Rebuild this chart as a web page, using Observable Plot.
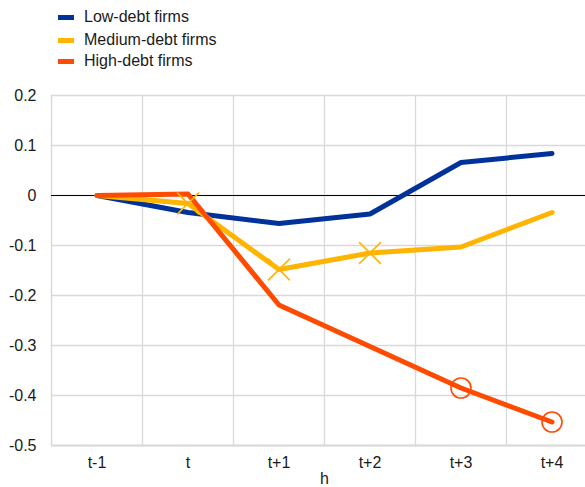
<!DOCTYPE html>
<html>
<head>
<meta charset="utf-8">
<script src="https://cdn.jsdelivr.net/npm/d3@7"></script>
<script src="https://cdn.jsdelivr.net/npm/@observablehq/plot@0.6"></script>
<style>
  html, body { margin: 0; padding: 0; background: #fff; overflow: hidden; width: 585px; height: 487px; }
  #legend { position: relative; height: 78px; font-family: "Liberation Sans", Arial, sans-serif; font-size: 16px; color: #1a1a1a; }
  .item { position: absolute; left: 58px; display: flex; align-items: center; }
  .sw { width: 16px; height: 5px; margin-right: 10px; }
  #chart svg { display: block; overflow: visible; }
</style>
</head>
<body>
<div id="legend"></div>
<div id="chart"></div>
<script>
const categories = ["t-1", "t", "t+1", "t+2", "t+3", "t+4"];
const seriesNames = ["Low-debt firms", "Medium-debt firms", "High-debt firms"];
const colors = ["#003299", "#FFB400", "#FF4B00"];
const lowDebt = [0, -0.034, -0.056, -0.037, 0.066, 0.084];
const mediumDebt = [0, -0.016, -0.148, -0.115, -0.103, -0.034];
const highDebt = [0, 0.003, -0.219, -0.302, -0.385, -0.453];
const yTicks = [-0.5, -0.4, -0.3, -0.2, -0.1, 0, 0.1, 0.2];
const yTickLabels = ["-0.5", "-0.4", "-0.3", "-0.2", "-0.1", "0", "0.1", "0.2"];
// significance markers
const mediumCrossAt = ["t", "t+1", "t+2"];
const highCircleAt = ["t+3", "t+4"];

const legendRowsY = [17, 40, 61];
const legend = document.getElementById("legend");
seriesNames.forEach((name, i) => {
  const d = document.createElement("div");
  d.className = "item";
  d.style.top = (legendRowsY[i] - 9) + "px";
  d.style.height = "18px";
  d.innerHTML = `<span class="sw" style="background:${colors[i]}"></span><span>${name}</span>`;
  legend.appendChild(d);
});

const allSeries = [lowDebt, mediumDebt, highDebt];
const data = [];
allSeries.forEach((vals, s) => vals.forEach((v, i) => data.push({series: seriesNames[s], idx: i, cat: categories[i], value: v})));

const idxOf = c => categories.indexOf(c);
const crosses = mediumCrossAt.map(c => ({idx: idxOf(c), value: mediumDebt[idxOf(c)]}));
const circles = highCircleAt.map(c => ({idx: idxOf(c), value: highDebt[idxOf(c)]}));
const boundaries = categories.slice(1).map((c, i) => i + 0.5);

const chart = Plot.plot({
  width: 585,
  height: 409,
  marginTop: 17,
  marginBottom: 42,
  marginLeft: 51,
  marginRight: -12,
  style: {fontFamily: "'Liberation Sans', Arial, sans-serif", fontSize: "16px", color: "#1a1a1a", background: "transparent"},
  x: {domain: [-0.5, categories.length - 0.5], label: null},
  y: {domain: [-0.5, 0.2], label: null},
  color: {domain: seriesNames, range: colors},
  marks: [
    Plot.ruleY(yTicks, {stroke: "#d9d9d9", strokeWidth: 1.3}),
    Plot.ruleX(boundaries, {stroke: "#d9d9d9", strokeWidth: 1.3}),
    Plot.ruleX([-0.5], {stroke: "#d9d9d9", strokeWidth: 1.5}),
    Plot.ruleY([-0.5], {stroke: "#d9d9d9", strokeWidth: 2}),
    Plot.ruleY([0], {stroke: "#000", strokeWidth: 1}),
    Plot.axisY({ticks: yTicks, tickFormat: (d) => yTickLabels[yTicks.indexOf(d)] ?? d, tickSize: 0, tickPadding: 15, fontSize: 16}),
    Plot.axisX({ticks: d3.range(categories.length), tickFormat: (i) => categories[i], tickSize: 0, tickPadding: 11, fontSize: 16, label: "h", labelAnchor: "center", labelArrow: "none", labelOffset: 38}),
    Plot.line(data, {x: "idx", y: "value", z: "series", stroke: "series", strokeWidth: 5, strokeLinecap: "round", strokeLinejoin: "round"}),
    Plot.dot(crosses, {x: "idx", y: "value", symbol: "times", r: 10, stroke: colors[1], strokeWidth: 1.6}),
    Plot.dot(circles, {x: "idx", y: "value", symbol: "circle", r: 10, stroke: colors[2], strokeWidth: 1.6, fill: "none"})
  ]
});
document.getElementById("chart").appendChild(chart);
</script>
</body>
</html>
